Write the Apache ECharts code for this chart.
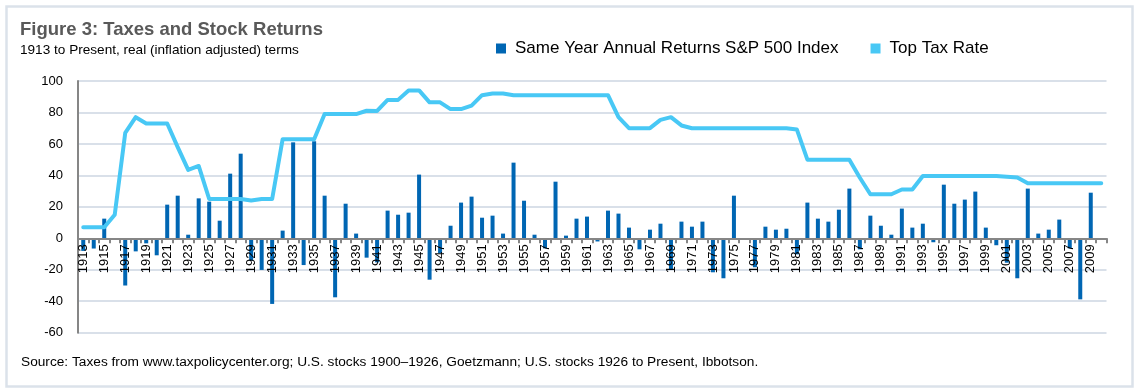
<!DOCTYPE html>
<html>
<head>
<meta charset="utf-8">
<script src="https://cdn.jsdelivr.net/npm/echarts@6/dist/echarts.min.js"></script>
<style>
html,body{margin:0;padding:0;background:#fff;}
#c{width:1136px;height:389px;}
</style>
</head>
<body>
<div id="c"></div>
<script>
const years = [
 '1913','1914','1915','1916','1917','1918','1919','1920','1921','1922',
 '1923','1924','1925','1926','1927','1928','1929','1930','1931','1932',
 '1933','1934','1935','1936','1937','1938','1939','1940','1941','1942',
 '1943','1944','1945','1946','1947','1948','1949','1950','1951','1952',
 '1953','1954','1955','1956','1957','1958','1959','1960','1961','1962',
 '1963','1964','1965','1966','1967','1968','1969','1970','1971','1972',
 '1973','1974','1975','1976','1977','1978','1979','1980','1981','1982',
 '1983','1984','1985','1986','1987','1988','1989','1990','1991','1992',
 '1993','1994','1995','1996','1997','1998','1999','2000','2001','2002',
 '2003','2004','2005','2006','2007','2008','2009','2010'
];
const stockReturns = [
 -8, -6.5, 12.5, -1, -30, -8.3, -3.2, -10.8, 21.4, 27.1,
 2.3, 25.4, 23.3, 11.2, 41.1, 53.8, -14.2, -20.1, -41.7, 4.9,
 61, -17, 61.7, 27.1, -37.5, 22, 3, -12.3, -15.3, 17.6,
 15, 16.3, 40.5, -26.3, -9.5, 8, 22.7, 26.5, 13.1, 14.4,
 3, 48.1, 23.9, 2.3, -6.4, 36, 1.7, 12.5, 13.8, -2,
 17.6, 15.7, 6.8, -7, 5.5, 9.3, -19.5, 10.6, 7.4, 10.6,
 -21.6, -25.4, 27.1, null, -18.4, 7.4, 5.5, 6.1, -10.2, 22.7,
 12.5, 10.6, 18.2, 31.6, -7, 14.4, 8, 2.3, 18.9, 6.8,
 9.3, -2.5, 34.1, 22, 24.6, 29.7, 6.8, -4.4, -15.5, -25.4,
 31.6, 3, 5.5, 11.9, -6.4, -38.8, 29, null
];
const topTaxRate = [
 7, 7, 7, 15, 67, 77, 73, 73, 73, 58,
 43.5, 46, 25, 25, 25, 25, 24, 25, 25, 63,
 63, 63, 63, 79, 79, 79, 79, 81.1, 81, 88,
 88, 94, 94, 86.45, 86.45, 82.13, 82.13, 84.36, 91, 92,
 92, 91, 91, 91, 91, 91, 91, 91, 91, 91,
 91, 77, 70, 70, 70, 75.25, 77, 71.75, 70, 70,
 70, 70, 70, 70, 70, 70, 70, 70, 69.13, 50,
 50, 50, 50, 50, 38.5, 28, 28, 28, 31, 31,
 39.6, 39.6, 39.6, 39.6, 39.6, 39.6, 39.6, 39.6, 39.1, 38.6,
 35, 35, 35, 35, 35, 35, 35, 35
];
const yTicks = {min: -60, max: 100, interval: 20};
const titleText = 'Figure 3: Taxes and Stock Returns';
const subtitleText = '1913 to Present, real (inflation adjusted) terms';
const sourceText = 'Source: Taxes from www.taxpolicycenter.org; U.S. stocks 1900\u20131926, Goetzmann; U.S. stocks 1926 to Present, Ibbotson.';
const seriesNames = ['Same Year Annual Returns S&P 500 Index', 'Top Tax Rate'];

const FONT = "'Liberation Sans', Arial, sans-serif";
const H = 389, GT = 81, GB = 56.3;
const gridH = H - GT - GB;
// move the category axis (line + labels) up to the y = 0 level
const zeroOffset = -gridH * (0 - yTicks.min) / (yTicks.max - yTicks.min);

const chart = echarts.init(document.getElementById('c'), null, {renderer: 'canvas'});
chart.setOption({
  animation: false,
  backgroundColor: '#ffffff',
  textStyle: {fontFamily: FONT},
  title: [
    {text: titleText, left: 20, top: 20, padding: 0,
     textStyle: {fontFamily: FONT, fontSize: 18.5, fontWeight: 'bold', color: '#595959'}},
    {text: subtitleText, left: 20, top: 43, padding: 0,
     textStyle: {fontFamily: FONT, fontSize: 13.6, fontWeight: 'normal', color: '#000'}}
  ],
  legend: {
    left: 496, top: 40, padding: 0,
    icon: 'rect', itemWidth: 10, itemHeight: 10, itemGap: 32,
    textStyle: {fontFamily: FONT, fontSize: 17, color: '#000', padding: [0, 0, 0, 4]},
    data: seriesNames
  },
  graphic: [
    {type: 'rect', left: 4, top: 4, z: -10, silent: true,
     shape: {width: 1126, height: 380},
     style: {fill: 'none', stroke: '#dbe2ea', lineWidth: 2.5}},
    {type: 'text', left: 21, top: 355, silent: true,
     style: {text: sourceText, font: "13.7px 'Liberation Sans', Arial, sans-serif", fill: '#000'}}
  ],
  grid: {left: 78, right: 29.5, top: GT, bottom: GB, containLabel: false},
  xAxis: {
    type: 'category', data: years, boundaryGap: true, z: 3,
    position: 'bottom', offset: zeroOffset,
    axisLine: {onZero: false, lineStyle: {color: '#868686', width: 2}},
    axisTick: {show: true, interval: 0, length: 5, lineStyle: {color: '#868686', width: 2}},
    axisLabel: {interval: 1, rotate: 90, margin: 6, fontFamily: FONT, fontSize: 13, color: '#000'},
    splitLine: {show: false}
  },
  yAxis: {
    type: 'value', min: yTicks.min, max: yTicks.max, interval: yTicks.interval,
    axisLine: {show: true, lineStyle: {color: '#868686', width: 2}},
    axisTick: {show: false},
    axisLabel: {margin: 15, fontFamily: FONT, fontSize: 13, color: '#000'},
    splitLine: {show: true, lineStyle: {color: '#d9e0e9', width: 2}}
  },
  series: [
    {name: seriesNames[0], type: 'bar', data: stockReturns, barWidth: 4,
     itemStyle: {color: '#0066b3'}, z: 2},
    {name: seriesNames[1], type: 'line', data: topTaxRate, symbol: 'none',
     lineStyle: {color: '#48c8f5', width: 4, join: 'round', cap: 'round'},
     itemStyle: {color: '#48c8f5'}, z: 4}
  ]
});
</script>
</body>
</html>
